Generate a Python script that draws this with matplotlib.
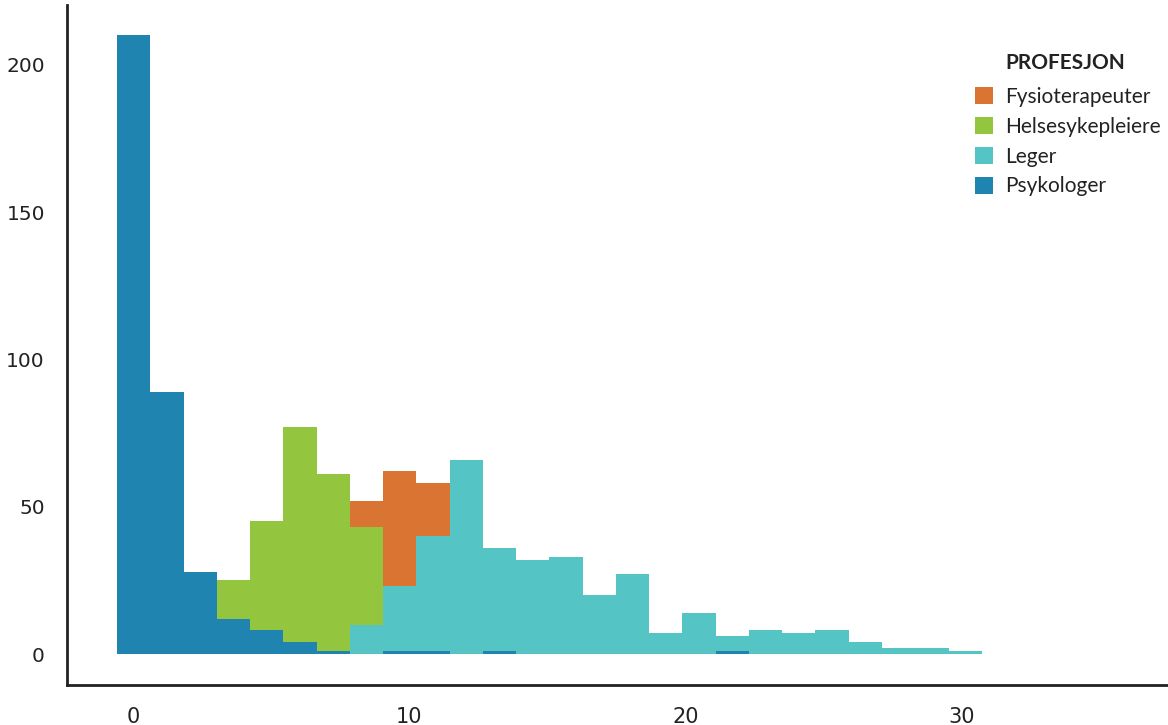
import numpy as np
import matplotlib
matplotlib.use("Agg")
import matplotlib.pyplot as plt
from matplotlib.patches import Patch

# histogram bins (years), shared by all groups
bin_edges = np.linspace(-0.58, 30.72, 27)

# counts per bin
fysio = [0, 0, 0, 0, 0, 0, 0, 52, 62, 58, 0, 0, 0,
         0, 0, 0, 0, 0, 0, 0, 0, 0, 0, 0, 0, 0]
helse = [0, 0, 0, 25, 45, 77, 61, 43, 0, 0, 0, 0, 0,
         0, 0, 0, 0, 0, 0, 0, 0, 0, 0, 0, 0, 0]
leger = [0, 0, 0, 0, 0, 0, 0, 10, 23, 40, 66, 36, 32,
         33, 20, 27, 7, 14, 6, 8, 7, 8, 4, 2, 2, 1]
psyk = [210, 89, 28, 12, 8, 4, 1, 0, 1, 1, 0, 1, 0,
        0, 0, 0, 0, 0, 1, 0, 0, 0, 0, 0, 0, 0]

labels = ["Fysioterapeuter", "Helsesykepleiere", "Leger", "Psykologer"]
colors = ["#d97433", "#93c63e", "#54c4c5", "#1f84b0"]
y_ticks = [0, 50, 100, 150, 200]
x_ticks = [0, 10, 20, 30]

fig = plt.figure(figsize=(11.68, 7.25), dpi=100)
ax = fig.add_axes([0.0574, 0.0552, 0.9426, 0.938])

centers = (bin_edges[:-1] + bin_edges[1:]) / 2
for counts, col in zip([fysio, helse, leger, psyk], colors):
    ax.hist(centers, bins=bin_edges, weights=counts, color=col,
            histtype="stepfilled", linewidth=0)

ax.set_xlim(-2.39, 37.46)
ax.set_ylim(-10.5, 220.3)

for s in ["top", "right"]:
    ax.spines[s].set_visible(False)
for s in ["left", "bottom"]:
    ax.spines[s].set_linewidth(2)
    ax.spines[s].set_color("#222222")

ax.set_yticks(y_ticks)
ax.set_yticklabels([str(v) for v in y_ticks], fontsize=14.5,
                   family=["DejaVu Sans"], color="#222222")
ax.set_xticks(x_ticks)
ax.set_xticklabels([str(v) for v in x_ticks], fontsize=15,
                   family=["Liberation Sans Narrow", "DejaVu Sans"],
                   color="#222222")
ax.tick_params(axis="y", length=0, pad=16)
ax.tick_params(axis="x", length=0, pad=16)

handles = [Patch(facecolor=c, edgecolor="none") for c in colors]
leg = ax.legend(handles, labels, loc="upper left", bbox_to_anchor=(0.8169, 0.8916),
                frameon=False, borderaxespad=0, borderpad=0.4,
                handlelength=0.87, handleheight=0.87,
                handletextpad=0.58, labelspacing=0.47,
                prop={"family": ["Lato", "DejaVu Sans"], "size": 15})
for t in leg.get_texts():
    t.set_color("#222222")
ax.text(0.852, 0.9147, "PROFESJON", transform=ax.transAxes, fontsize=15,
        fontweight="bold", family=["Lato", "DejaVu Sans"], color="#222222",
        va="center", ha="left")

fig.savefig("out.png", dpi=100)
